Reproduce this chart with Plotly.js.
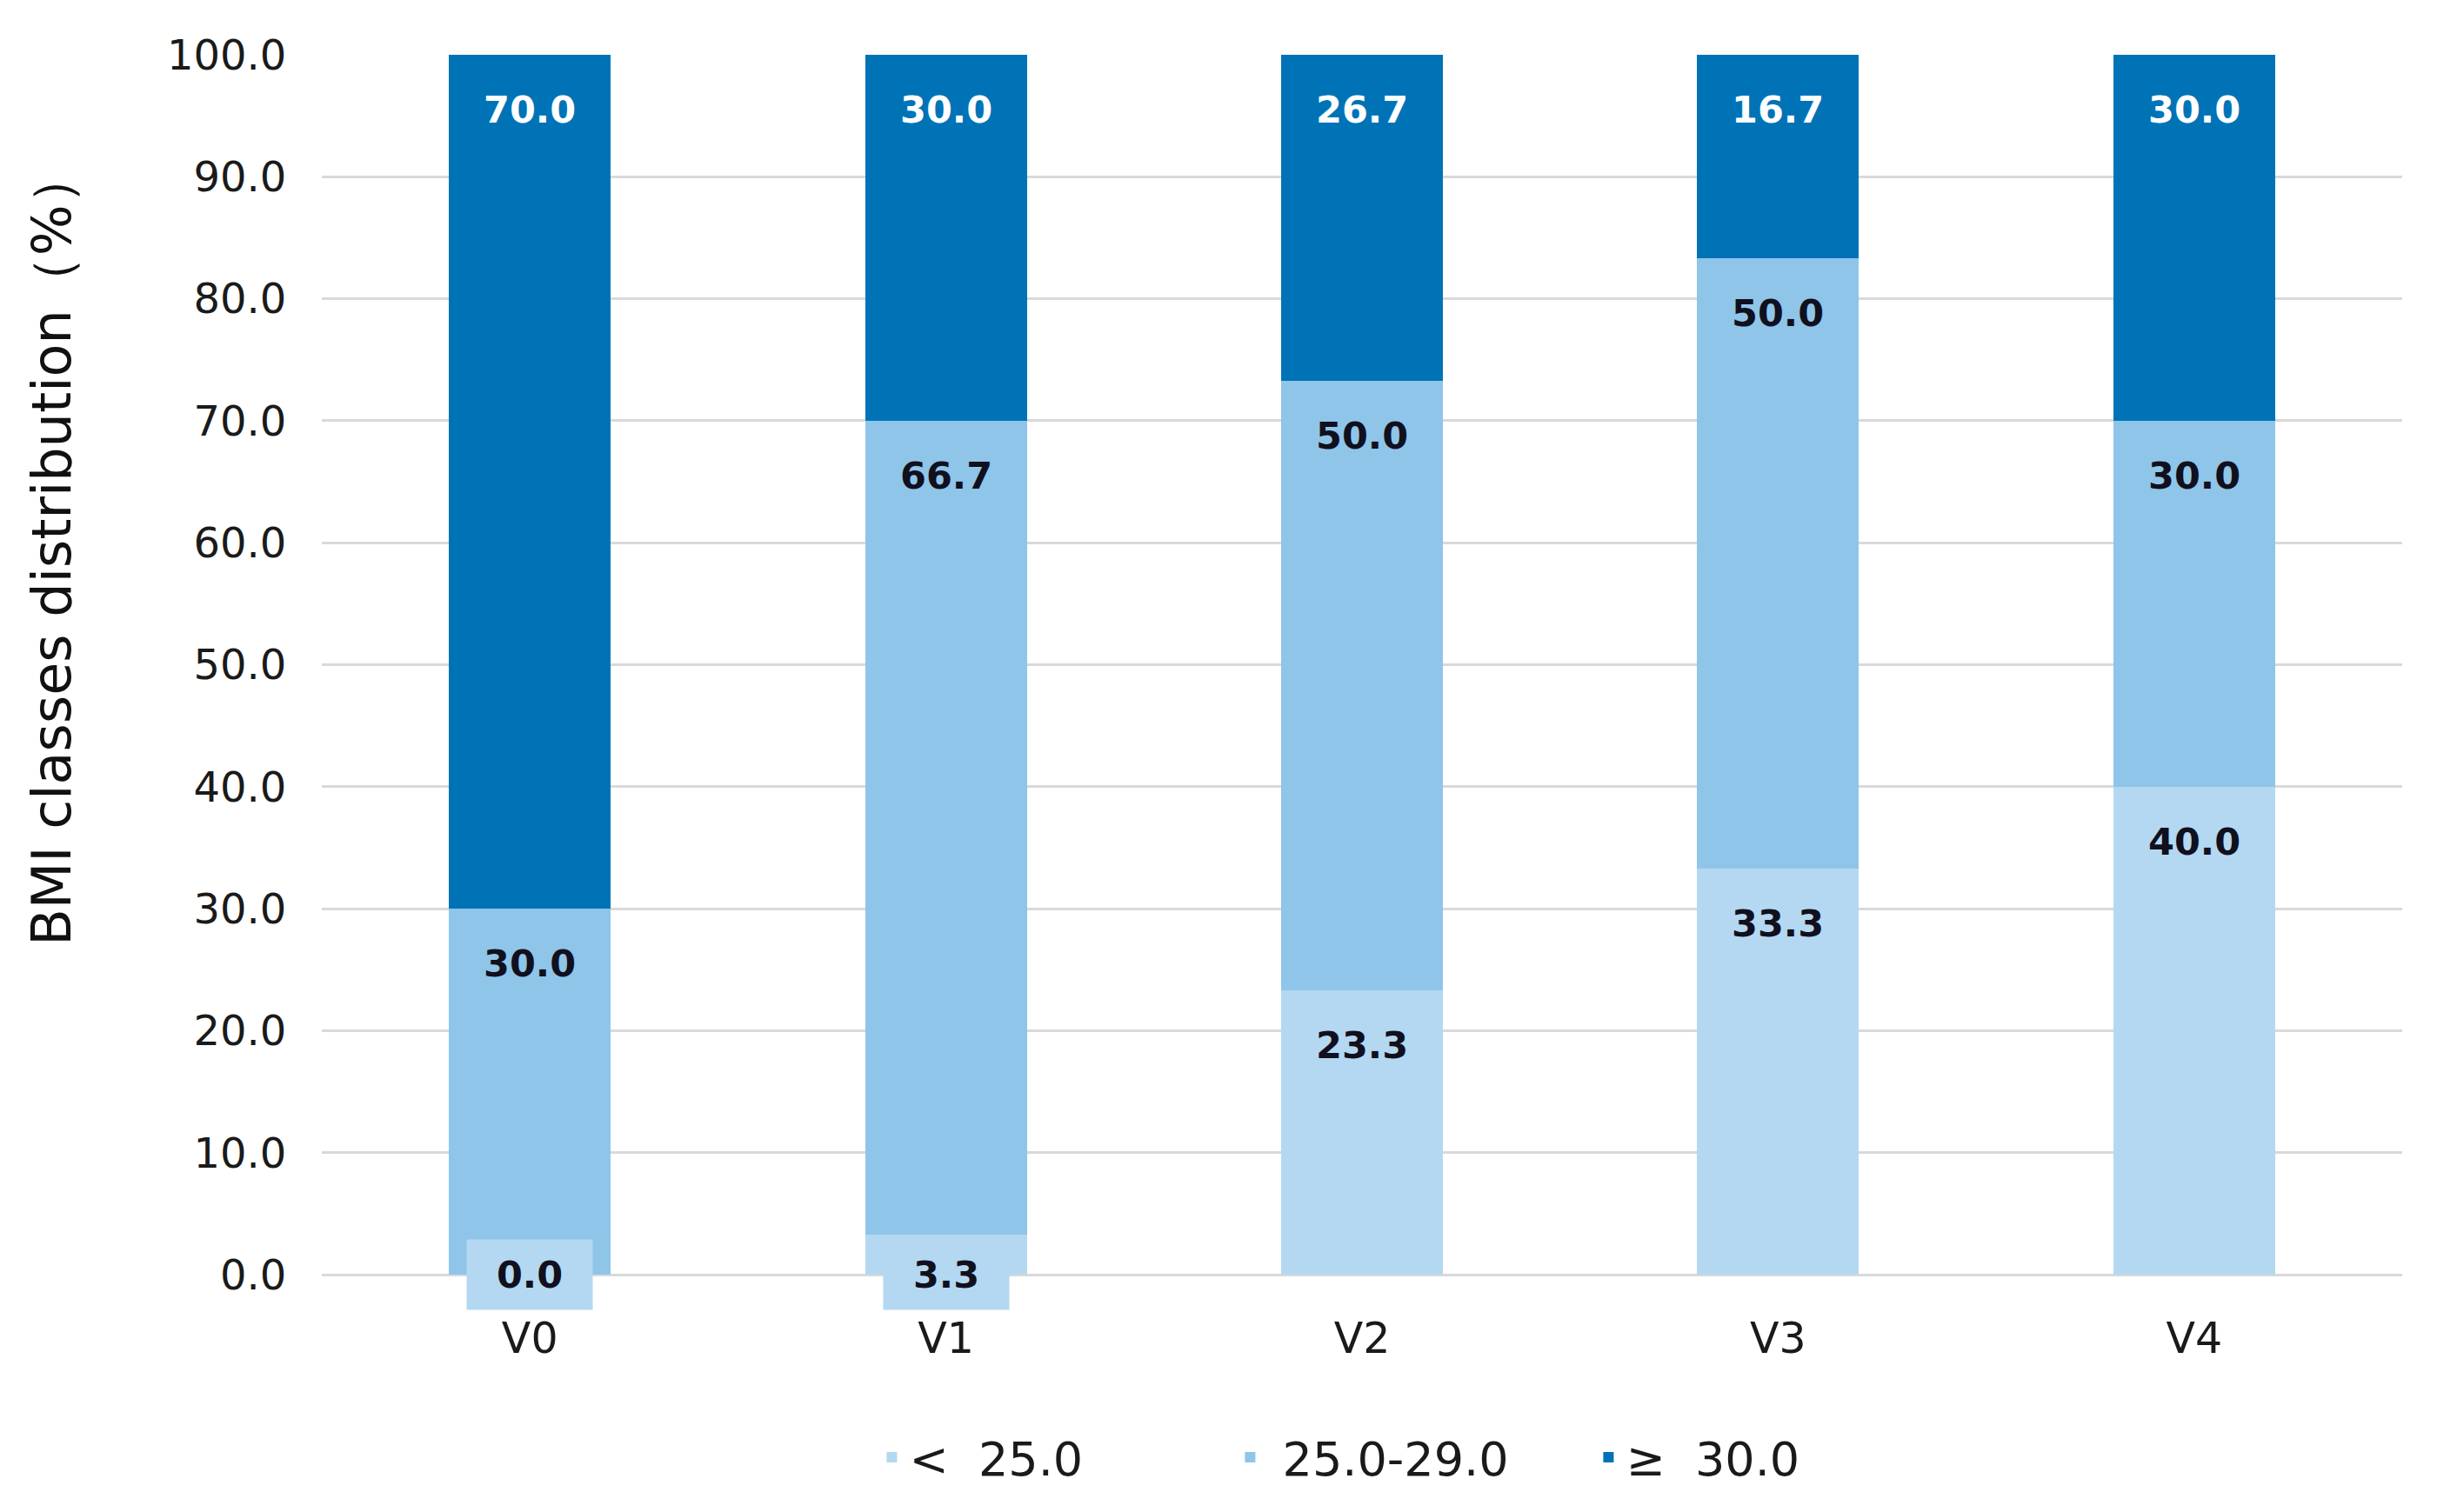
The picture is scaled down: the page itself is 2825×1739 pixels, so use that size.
<!DOCTYPE html>
<html>
<head>
<meta charset="utf-8">
<script src="https://cdn.plot.ly/plotly-3.0.1.min.js"></script>
<style>
  html, body { margin: 0; padding: 0; background: #fff; }
  #chart { width: 2825px; height: 1739px; }
</style>
</head>
<body>
<div id="chart"></div>
<script>
var visits = ['V0', 'V1', 'V2', 'V3', 'V4'];
var under25 = [0.0, 3.3, 23.3, 33.3, 40.0];
var from25to29 = [30.0, 66.7, 50.0, 50.0, 30.0];
var over30 = [70.0, 30.0, 26.7, 16.7, 30.0];
var seriesNames = ['<  25.0', ' 25.0-29.0', '\u2265  30.0'];
var yTitle = 'BMI classes distribution\uff08%\uff09';

var colLight = '#b4d8f1';
var colMid = '#8fc5e9';
var colDark = '#0073b7';
var labelFont = 'DejaVu Sans, Verdana, sans-serif';

function barTrace(vals, name, color) {
    return {
        x: visits,
        y: vals,
        name: name,
        type: 'bar',
        marker: { color: color },
        hoverinfo: 'skip'
    };
}

var data = [
    barTrace(under25, seriesNames[0], colLight),
    barTrace(from25to29, seriesNames[1], colMid),
    barTrace(over30, seriesNames[2], colDark)
];

// value labels just under the top of each segment
var annotations = [];
var stacks = [under25, from25to29, over30];
for (var i = 0; i < visits.length; i++) {
    var cum = 0;
    for (var s = 0; s < stacks.length; s++) {
        var v = stacks[s][i];
        cum += v;
        var ann = {
            x: visits[i],
            y: cum,
            xref: 'x',
            yref: 'y',
            text: '<b>' + v.toFixed(1) + '</b>',
            showarrow: false,
            yanchor: 'middle',
            yshift: -63,
            font: {
                family: labelFont,
                size: 43,
                color: s == 2 ? '#ffffff' : '#10101e'
            }
        };
        // very small segment: label sits on a light box across the axis
        if (v < 5) {
            ann.y = 0;
            ann.yshift = 0;
            ann.bgcolor = colLight;
            ann.borderpad = 15;
            ann.width = 114;
        }
        annotations.push(ann);
    }
}

// y title sits a little above the middle of the axis, so it goes in as an annotation
annotations.push({
    xref: 'paper',
    yref: 'paper',
    x: -0.1298,
    y: 0.595,
    xanchor: 'center',
    yanchor: 'middle',
    textangle: -90,
    showarrow: false,
    text: yTitle,
    font: { family: labelFont, size: 62, color: '#111111' }
});

var layout = {
    width: 2825,
    height: 1739,
    paper_bgcolor: '#ffffff',
    plot_bgcolor: '#ffffff',
    margin: { l: 370, r: 63, t: 63, b: 273 },
    barmode: 'stack',
    bargap: 0.611,
    font: { family: labelFont, color: '#1a1a1a' },
    showlegend: true,
    legend: {
        orientation: 'h',
        x: 0.524,
        xanchor: 'center',
        y: -0.150,
        yanchor: 'middle',
        traceorder: 'normal',
        entrywidth: 367,
        font: { family: labelFont, size: 54, color: '#1a1a1a' }
    },
    xaxis: {
        type: 'category',
        showgrid: false,
        showline: false,
        zeroline: false,
        ticks: 'outside',
        ticklen: 30,
        tickcolor: 'rgba(0,0,0,0)',
        tickfont: { family: labelFont, size: 49, color: '#1a1a1a' }
    },
    yaxis: {
        range: [0, 100],
        dtick: 10,
        tickformat: '.1f',
        showgrid: true,
        gridcolor: '#d9d9d9',
        gridwidth: 3,
        zeroline: true,
        zerolinecolor: '#d9d9d9',
        zerolinewidth: 3,
        showline: false,
        ticks: 'outside',
        ticklen: 30,
        tickcolor: 'rgba(0,0,0,0)',
        tickfont: { family: labelFont, size: 48, color: '#1a1a1a' }
    },
    annotations: annotations
};

Plotly.newPlot('chart', data, layout, { displayModeBar: false, staticPlot: true });
</script>
</body>
</html>
